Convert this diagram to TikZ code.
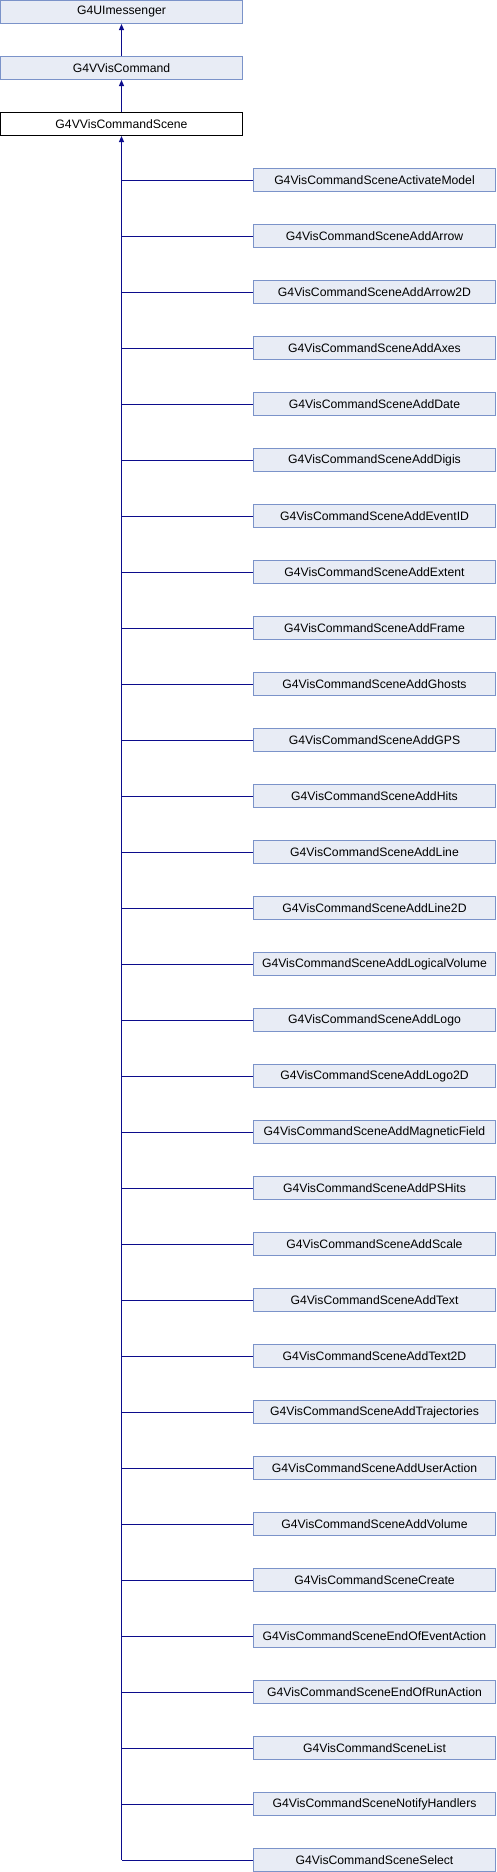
\documentclass[tikz,border=0pt]{standalone}
\usepackage{fontspec}
\setmainfont{Liberation Sans}
\usetikzlibrary{arrows.meta}
\definecolor{boxfill}{HTML}{E8ECF5}
\definecolor{boxline}{HTML}{7B93C9}
\definecolor{edgecol}{RGB}{12,12,140}
\begin{document}
\begin{tikzpicture}[x=1pt,y=-1pt,
  cls/.style={draw=boxline,fill=boxfill,line width=1pt,minimum width=242pt,minimum height=23pt,inner sep=0pt,font=\fontsize{12.2pt}{14pt}\selectfont},
  cur/.style={cls,draw=black,fill=white},
  edge/.style={draw=edgecol,line width=1pt},
  inh/.style={edge,-{Triangle[length=6pt,width=5pt]}}]
\useasboundingbox (0,0) rectangle (496,1872);
\node[cls] (b1) at (121.5,12) {G4UImessenger};
\node[cls] (b2) at (121.5,68) {G4VVisCommand};
\node[cur] (b3) at (121.5,124) {G4VVisCommandScene};
\draw[inh] (b2) -- (b1);
\draw[inh] (b3) -- (b2);
\foreach \n [count=\k from 0] in {ActivateModel,AddArrow,AddArrow2D,AddAxes,AddDate,AddDigis,AddEventID,AddExtent,AddFrame,AddGhosts,AddGPS,AddHits,AddLine,AddLine2D,AddLogicalVolume,AddLogo,AddLogo2D,AddMagneticField,AddPSHits,AddScale,AddText,AddText2D,AddTrajectories,AddUserAction,AddVolume,Create,EndOfEventAction,EndOfRunAction,List,NotifyHandlers,Select}{
  \node[cls] (c\k) at (374.5,{180+56*\k}) {G4VisCommandScene\n};
  \draw[edge] (c\k.west) -- (b3.south |- c\k.west);
}
\coordinate (sp) at (b3.south |- c30.west);
\draw[inh] (sp) -- (b3);
\end{tikzpicture}
\end{document}
